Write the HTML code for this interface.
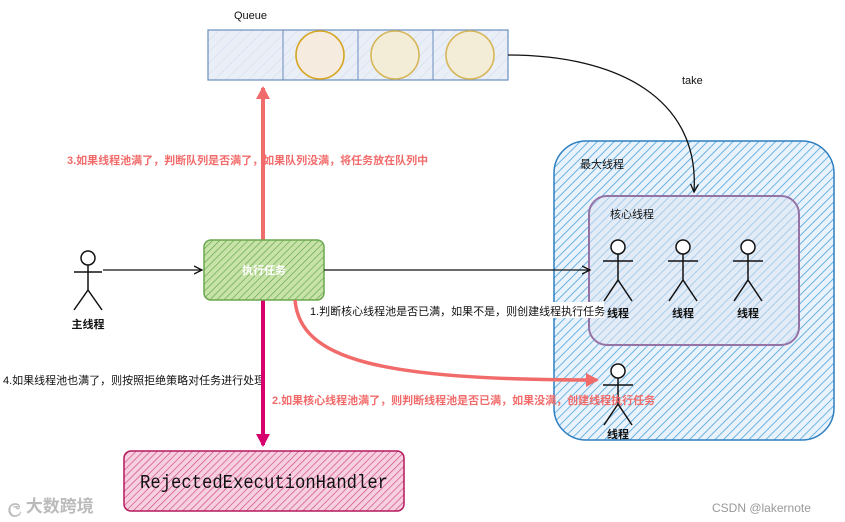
<!DOCTYPE html>
<html><head><meta charset="utf-8"><style>
html,body{margin:0;padding:0;background:#fff;width:845px;height:522px;overflow:hidden}
svg{display:block}
text{font-family:"Liberation Sans","Noto Sans CJK SC",sans-serif}
text.mono{font-family:"Liberation Mono",monospace}
</style></head><body>
<svg width="845" height="522" viewBox="0 0 845 522" xmlns="http://www.w3.org/2000/svg">
<defs>
<pattern id="hb" width="6" height="6" patternUnits="userSpaceOnUse" patternTransform="rotate(45)"><rect width="6" height="6" fill="#eaf3fb"/><line x1="0" y1="0" x2="0" y2="6" stroke="#4aa3df" stroke-width="1.6"/></pattern>
<pattern id="hq" width="8" height="8" patternUnits="userSpaceOnUse" patternTransform="rotate(45)"><rect width="8" height="8" fill="#e9eef7"/><line x1="0" y1="0" x2="0" y2="8" stroke="#d0dbee" stroke-width="1"/></pattern>
<pattern id="hg" width="5" height="5" patternUnits="userSpaceOnUse" patternTransform="rotate(45)"><rect width="5" height="5" fill="#c7e3a8"/><line x1="0" y1="0" x2="0" y2="5" stroke="#6aa84f" stroke-width="1.4"/></pattern>
<pattern id="hp" width="5" height="5" patternUnits="userSpaceOnUse" patternTransform="rotate(45)"><rect width="5" height="5" fill="#f6d0e0"/><line x1="0" y1="0" x2="0" y2="5" stroke="#d0457f" stroke-width="1.3"/></pattern>
<marker id="ab" markerWidth="10" markerHeight="10" refX="8" refY="5" orient="auto" markerUnits="userSpaceOnUse"><path d="M0,1 L8,5 L0,9" fill="none" stroke="#111" stroke-width="1.3"/></marker>
<marker id="ar" markerWidth="16" markerHeight="16" refX="11" refY="8" orient="auto" markerUnits="userSpaceOnUse"><path d="M0,1 L13,8 L0,15 Z" fill="#f26b6b"/></marker>
<marker id="am" markerWidth="16" markerHeight="16" refX="11" refY="8" orient="auto" markerUnits="userSpaceOnUse"><path d="M0,1 L13,8 L0,15 Z" fill="#d6006f"/></marker>
</defs>

<rect x="554" y="141" width="280" height="299" rx="32" fill="url(#hb)" stroke="#2d7fc1" stroke-width="1.5"/>
<text x="580" y="168" font-size="11" fill="#111">最大线程</text>
<rect x="589" y="196" width="210" height="149" rx="18" fill="#dde3f2" fill-opacity="0.55" stroke="#9673a6" stroke-width="2"/>
<text x="610" y="218" font-size="11" fill="#111">核心线程</text>

<text x="234" y="19" font-size="11" fill="#111">Queue</text>
<rect x="208" y="30" width="300" height="50" fill="url(#hq)" stroke="#6c8ebf" stroke-width="1.2"/>
<line x1="283" y1="30" x2="283" y2="80" stroke="#6c8ebf"/>
<line x1="358" y1="30" x2="358" y2="80" stroke="#6c8ebf"/>
<line x1="433" y1="30" x2="433" y2="80" stroke="#6c8ebf"/>
<circle cx="320" cy="55" r="24" fill="#f6ebdf" stroke="#d6a520" stroke-width="1.6"/>
<circle cx="395" cy="55" r="24" fill="#f3edd8" stroke="#d6b656" stroke-width="1.6"/>
<circle cx="470" cy="55" r="24" fill="#f3edd8" stroke="#d6b656" stroke-width="1.6"/>

<path d="M508,55 C620,55 700,100 694,192" fill="none" stroke="#111" stroke-width="1.3" marker-end="url(#ab)"/>
<rect x="678" y="72" width="30" height="16" fill="#fff"/>
<text x="682" y="84" font-size="11" fill="#111">take</text>

<line x1="263" y1="240" x2="263" y2="88" stroke="#f26b6b" stroke-width="4" marker-end="url(#ar)"/>
<text x="67" y="164" font-size="11" font-weight="bold" fill="#f26b6b">3.如果线程池满了，判断队列是否满了，如果队列没满，将任务放在队列中</text>

<rect x="1" y="372" width="288" height="16" fill="#fff"/>
<text x="3" y="384" font-size="11" fill="#111">4.如果线程池也满了，则按照拒绝策略对任务进行处理</text>
<line x1="263" y1="300" x2="263" y2="445" stroke="#d6006f" stroke-width="4" marker-end="url(#am)"/>

<rect x="204" y="240" width="120" height="60" rx="7" fill="url(#hg)" stroke="#6aa84f" stroke-width="1.5"/>
<text x="264" y="274" font-size="11" font-weight="bold" fill="#fff" text-anchor="middle">执行任务</text>

<g stroke="#111" stroke-width="1.5" fill="#fff">
<circle cx="88" cy="258" r="7"/>
<line x1="88" y1="265" x2="88" y2="290"/><line x1="74" y1="272" x2="102" y2="272"/>
<line x1="88" y1="290" x2="74" y2="310"/><line x1="88" y1="290" x2="102" y2="310"/>
</g>
<text x="88" y="328" font-size="11" font-weight="bold" fill="#111" text-anchor="middle">主线程</text>
<line x1="103" y1="270" x2="202" y2="270" stroke="#111" stroke-width="1.2" marker-end="url(#ab)"/>
<line x1="324" y1="270" x2="590" y2="270" stroke="#111" stroke-width="1.2" marker-end="url(#ab)"/>

<g stroke="#111" stroke-width="1.5" fill="#fff">
<g transform="translate(618,0)"><circle cx="0" cy="247" r="7"/><line x1="0" y1="254" x2="0" y2="280"/><line x1="-15" y1="261" x2="15" y2="261"/><line x1="0" y1="280" x2="-14" y2="301"/><line x1="0" y1="280" x2="14" y2="301"/></g>
<g transform="translate(683,0)"><circle cx="0" cy="247" r="7"/><line x1="0" y1="254" x2="0" y2="280"/><line x1="-15" y1="261" x2="15" y2="261"/><line x1="0" y1="280" x2="-14" y2="301"/><line x1="0" y1="280" x2="14" y2="301"/></g>
<g transform="translate(748,0)"><circle cx="0" cy="247" r="7"/><line x1="0" y1="254" x2="0" y2="280"/><line x1="-15" y1="261" x2="15" y2="261"/><line x1="0" y1="280" x2="-14" y2="301"/><line x1="0" y1="280" x2="14" y2="301"/></g>
<g transform="translate(618,124)"><circle cx="0" cy="247" r="7"/><line x1="0" y1="254" x2="0" y2="280"/><line x1="-15" y1="261" x2="15" y2="261"/><line x1="0" y1="280" x2="-14" y2="301"/><line x1="0" y1="280" x2="14" y2="301"/></g>
</g>
<text x="618" y="317" font-size="11" font-weight="bold" fill="#111" text-anchor="middle">线程</text>
<text x="683" y="317" font-size="11" font-weight="bold" fill="#111" text-anchor="middle">线程</text>
<text x="748" y="317" font-size="11" font-weight="bold" fill="#111" text-anchor="middle">线程</text>
<text x="618" y="438" font-size="11" font-weight="bold" fill="#111" text-anchor="middle">线程</text>

<path d="M295,300 C300,360 380,380 597,380" fill="none" stroke="#f26b6b" stroke-width="3.5" marker-end="url(#ar)"/>

<rect x="308" y="302" width="296" height="16" fill="#fff"/>
<text x="310" y="315" font-size="11" fill="#111">1.判断核心线程池是否已满，如果不是，则创建线程执行任务</text>
<text x="272" y="404" font-size="11" font-weight="bold" fill="#f26b6b">2.如果核心线程池满了，则判断线程池是否已满，如果没满，创建线程执行任务</text>

<rect x="124" y="451" width="280" height="60" rx="7" fill="url(#hp)" stroke="#b5195e" stroke-width="1.5"/>
<text class="mono" x="140" y="488" font-size="19" fill="#111" textLength="248" lengthAdjust="spacingAndGlyphs">RejectedExecutionHandler</text>

<text x="8" y="512" font-size="17" fill="#bbb" font-weight="bold">ල 大数跨境</text>
<text x="712" y="512" font-size="12" fill="#999">CSDN @lakernote</text>
</svg>
</body></html>
